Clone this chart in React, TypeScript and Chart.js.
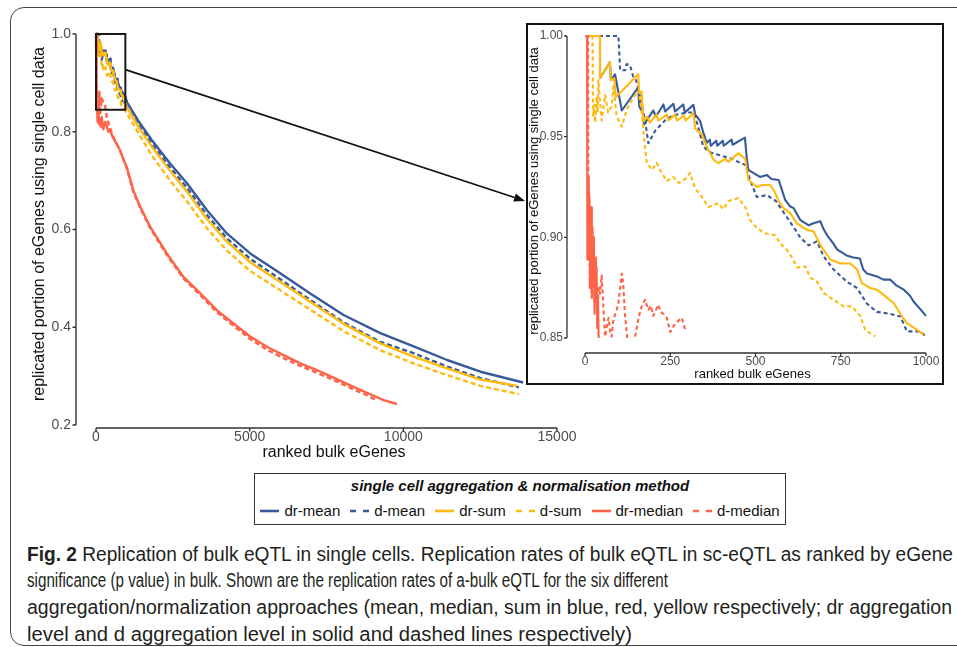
import React, { useEffect, useLayoutEffect, useRef } from "react";
import { Chart, registerables } from "chart.js";

Chart.register(...registerables);

type Pt = [number, number | null];

// ---------- series metadata ----------
const seriesLabels = ["dr-mean", "d-mean", "dr-sum", "d-sum", "dr-median", "d-median"];
const seriesColors = ["#375A9A", "#375A9A", "#FFB90F", "#FFB90F", "#FF6347", "#FF6347"];
const seriesDashed = [false, true, false, true, false, true];

// ---------- tick values ----------
const mainXTicks = [0, 5000, 10000, 15000];
const mainYTicks = [0.2, 0.4, 0.6, 0.8, 1.0];
const insetXTicks = [0, 250, 500, 750, 1000];
const insetYTicks = [0.85, 0.9, 0.95, 1.0];

// zoom window drawn on the main panel (rank range, rate range)
const zoomRankRange = [0, 955];
const zoomRateRange = [0.845, 1.0];

// ---------- inset data: first 1000 ranked bulk eGenes ----------
const drMeanZoom: Pt[] = [
  [0, 1], [44, 1], [44, 0.979], [73, 0.987], [76, 0.978], [88, 0.981], [98, 0.972], [108, 0.963],
  [156, 0.9745], [159, 0.965], [169, 0.962], [173, 0.956], [200, 0.963], [208, 0.96], [230, 0.966],
  [235, 0.9625], [259, 0.9663], [264, 0.9625], [288, 0.966], [293, 0.962], [318, 0.9658], [323, 0.961],
  [337, 0.958], [347, 0.952], [357, 0.947], [366, 0.9485], [369, 0.9455], [385, 0.948], [388, 0.9455],
  [404, 0.948], [407, 0.9455], [430, 0.9485], [433, 0.946], [469, 0.9495], [474, 0.94], [479, 0.9335],
  [503, 0.931], [513, 0.93], [533, 0.931], [547, 0.929], [568, 0.9285], [587, 0.9186], [602, 0.9153],
  [612, 0.9145], [631, 0.9087], [656, 0.906], [670, 0.907], [690, 0.908], [700, 0.904], [710, 0.901],
  [728, 0.897], [739, 0.894], [767, 0.891], [787, 0.89], [806, 0.8895], [816, 0.884], [827, 0.882],
  [856, 0.8806], [875, 0.879], [895, 0.879], [914, 0.876], [935, 0.874], [953, 0.871], [964, 0.868],
  [985, 0.864], [1000, 0.861],
];
const dMeanZoom: Pt[] = [
  [0, 1], [98, 1], [103, 0.983], [118, 0.983], [122, 0.986], [132, 0.9856], [141, 0.98], [150, 0.978],
  [166, 0.9666], [176, 0.958], [186, 0.9467], [206, 0.953], [240, 0.959], [270, 0.961], [300, 0.962],
  [318, 0.962], [330, 0.956], [347, 0.945], [370, 0.942], [391, 0.941], [430, 0.939], [455, 0.937],
  [470, 0.936], [484, 0.9285], [504, 0.92], [534, 0.921], [560, 0.918], [592, 0.91], [612, 0.905],
  [631, 0.9], [656, 0.896], [680, 0.898], [700, 0.8905], [729, 0.884], [768, 0.878], [798, 0.8748],
  [827, 0.867], [856, 0.863], [895, 0.862], [925, 0.8607], [944, 0.8533], [984, 0.8533], [998, 0.851],
];
const drSumZoom: Pt[] = [
  [0, 1], [44, 1], [44, 0.979], [73, 0.987], [76, 0.978], [86, 0.979], [90, 0.9696], [156, 0.981],
  [159, 0.9716], [166, 0.9725], [171, 0.9575], [183, 0.96], [190, 0.957], [210, 0.961], [215, 0.958],
  [240, 0.961], [245, 0.958], [264, 0.961], [270, 0.958], [290, 0.9605], [295, 0.958], [318, 0.9616],
  [323, 0.954], [343, 0.951], [357, 0.945], [377, 0.9385], [391, 0.9368], [411, 0.939], [420, 0.9375],
  [450, 0.9418], [470, 0.939], [479, 0.9285], [504, 0.925], [520, 0.926], [543, 0.926], [555, 0.923],
  [568, 0.918], [582, 0.9145], [602, 0.912], [621, 0.907], [651, 0.9037], [670, 0.903], [690, 0.8963],
  [719, 0.889], [749, 0.887], [778, 0.887], [798, 0.884], [812, 0.8773], [837, 0.8748], [856, 0.874],
  [881, 0.8707], [905, 0.8674], [930, 0.8607], [944, 0.8574], [974, 0.8541], [993, 0.8516],
];
const dSumZoom: Pt[] = [
  [0, 1], [22, 1], [24, 0.96], [28, 0.966], [30, 0.957], [34, 0.97], [37, 0.962], [39, 0.978],
  [49, 0.958], [59, 0.9707], [68, 0.962], [78, 0.965], [83, 0.975], [93, 0.96], [108, 0.955],
  [122, 0.9633], [137, 0.968], [157, 0.973], [166, 0.963], [176, 0.945], [181, 0.937], [196, 0.9335],
  [210, 0.937], [220, 0.9335], [240, 0.928], [259, 0.93], [275, 0.927], [294, 0.929], [308, 0.932],
  [323, 0.9244], [343, 0.92], [362, 0.915], [391, 0.917], [405, 0.914], [421, 0.918], [450, 0.9195],
  [470, 0.915], [484, 0.9087], [504, 0.9046], [528, 0.902], [558, 0.901], [572, 0.897], [592, 0.8938],
  [607, 0.89], [622, 0.885], [646, 0.8855], [661, 0.88], [680, 0.878], [700, 0.8723], [729, 0.869],
  [758, 0.8657], [783, 0.8657], [807, 0.861], [822, 0.854], [851, 0.8508],
];
const drMedianZoom: Pt[] = [
  [1, 1], [6, 1], [7, 0.889], [9, 0.93], [11, 0.889], [13, 0.92], [15, 0.875], [18, 0.915], [20, 0.87],
  [22, 0.905], [24, 0.88], [26, 0.9], [28, 0.862], [30, 0.89], [32, 0.87], [34, 0.885], [36, 0.855],
  [38, 0.87], [40, 0.85],
];
const dMedianZoom: Pt[] = [
  [3, 1], [9, 1], [10, 0.9], [12, 0.923], [14, 0.875], [17, 0.9], [20, 0.87], [24, 0.892], [28, 0.867],
  [32, 0.885], [36, 0.86], [40, 0.875], [44, 0.872], [49, 0.881], [54, 0.865], [59, 0.8507], [64, 0.856],
  [69, 0.86], [74, 0.853], [78, 0.8507], [83, 0.859], [93, 0.864], [98, 0.8674], [103, 0.875], [108, 0.882],
  [112, 0.877], [117, 0.862], [124, 0.85], [135, null], [147, 0.8507], [157, 0.86], [166, 0.8657],
  [176, 0.869], [186, 0.864], [193, 0.866], [200, 0.861], [208, 0.864], [215, 0.8665], [222, 0.863],
  [230, 0.862], [240, 0.86], [250, 0.853], [259, 0.8558], [270, 0.858], [284, 0.86], [294, 0.854],
];

// ---------- main data beyond the zoom window ----------
const drMeanRest: Pt[] = [
  [1400, 0.82], [1813, 0.783], [2410, 0.735], [2954, 0.695], [3605, 0.64], [4257, 0.592], [5016, 0.551],
  [5885, 0.515], [6970, 0.469], [8055, 0.425], [9250, 0.388], [10336, 0.361], [11423, 0.333],
  [12508, 0.309], [13900, 0.287],
];
const dMeanRest: Pt[] = [
  [1400, 0.812], [1813, 0.776], [2410, 0.727], [2954, 0.686], [3605, 0.63], [4257, 0.582], [5016, 0.54],
  [5885, 0.503], [6970, 0.456], [8055, 0.41], [9250, 0.37], [10336, 0.347], [11423, 0.3195],
  [12508, 0.296], [13760, 0.277],
];
const drSumRest: Pt[] = [
  [1400, 0.808], [1813, 0.77], [2410, 0.72], [2954, 0.678], [3605, 0.622], [4257, 0.575], [5016, 0.533],
  [5885, 0.497], [6970, 0.452], [8055, 0.407], [9250, 0.367], [10336, 0.34], [11423, 0.316],
  [12508, 0.293], [13700, 0.28],
];
const dSumRest: Pt[] = [
  [1000, 0.838], [1400, 0.795], [1813, 0.752], [2410, 0.7], [2954, 0.658], [3605, 0.603], [4257, 0.557],
  [5016, 0.515], [5885, 0.48], [6970, 0.436], [8055, 0.392], [9250, 0.353], [10336, 0.326],
  [11423, 0.302], [12508, 0.28], [13760, 0.263],
];
const drMedianMain: Pt[] = [
  [0, 1], [5, 1], [7, 0.889], [10, 0.9], [15, 0.875], [20, 0.93], [28, 0.862], [36, 0.855], [45, 0.835],
  [60, 0.82], [80, 0.84], [100, 0.815], [130, 0.825], [160, 0.81], [186, 0.83], [238, 0.805], [300, 0.82],
  [349, 0.812], [400, 0.8], [456, 0.805], [520, 0.792], [600, 0.783], [700, 0.772], [782, 0.762],
  [900, 0.742], [1000, 0.728], [1215, 0.68], [1433, 0.647], [1759, 0.606], [2303, 0.551], [2846, 0.503],
  [3388, 0.47], [3930, 0.435], [4473, 0.408], [5016, 0.381], [5559, 0.36], [6101, 0.343], [6644, 0.326],
  [7187, 0.3125], [7729, 0.297], [8272, 0.281], [8815, 0.266], [9358, 0.251], [9790, 0.243],
];
const dMedianMain: Pt[] = [
  [0, 1], [9, 1], [12, 0.923], [20, 0.87], [24, 0.892], [40, 0.875], [59, 0.85], [80, 0.84], [108, 0.882],
  [124, 0.85], [135, 0.835], [176, 0.869], [230, 0.862], [294, 0.854], [350, 0.83], [420, 0.815],
  [500, 0.8], [600, 0.785], [782, 0.762], [1000, 0.725], [1215, 0.677], [1433, 0.645], [1759, 0.603],
  [2303, 0.548], [2846, 0.5], [3388, 0.466], [3930, 0.431], [4473, 0.403], [5016, 0.376], [5559, 0.354],
  [6101, 0.337], [6644, 0.321], [7187, 0.307], [7729, 0.292], [8272, 0.276], [8815, 0.261], [9140, 0.25],
];

const mainSeries: Pt[][] = [
  [...drMeanZoom, ...drMeanRest],
  [...dMeanZoom, ...dMeanRest],
  [...drSumZoom, ...drSumRest],
  [...dSumZoom, ...dSumRest],
  drMedianMain,
  dMedianMain,
];
const insetSeries: Pt[][] = [drMeanZoom, dMeanZoom, drSumZoom, dSumZoom, drMedianZoom, dMedianZoom];

// ---------- text ----------
const yTitle = "replicated portion of eGenes using single cell data";
const xTitle = "ranked bulk eGenes";
const legendTitle = "single cell aggregation & normalisation method";
const captionLines = [
  " Replication of bulk eQTL in single cells. Replication rates of bulk eQTL in sc-eQTL as ranked by eGene",
  "significance (p value) in bulk. Shown are the replication rates of a-bulk eQTL for the six different",
  "aggregation/normalization approaches (mean, median, sum in blue, red, yellow respectively; dr aggregation",
  "level and d aggregation level in solid and dashed lines respectively)",
];
// rendered width of each caption line in the reference figure
const captionWidths = [926, 641, 925, 605];

const FONT = '"Liberation Sans", Arial, Helvetica, sans-serif';
const INSET = { left: 526, top: 23, width: 418, height: 362, border: 2 };
const ARROW_TIP = { x: INSET.left - 1, y: 201 };

function makeDatasets(series: Pt[][], width: number, dash: number[]) {
  return series.map((pts, i) => ({
    label: seriesLabels[i],
    data: pts.map(([x, y]) => ({ x, y })),
    borderColor: seriesColors[i],
    backgroundColor: seriesColors[i],
    borderWidth: width,
    borderDash: seriesDashed[i] ? dash : [],
    borderJoinStyle: "round" as const,
    pointRadius: 0,
    pointHoverRadius: 0,
    tension: 0,
    fill: false,
    spanGaps: false,
    order: series.length - 1 - i,
  }));
}

function cappedAxesPlugin(xTicks: number[], yTicks: number[], tickLen: number, lw: number) {
  return {
    id: "cappedAxes",
    afterDatasetsDraw(chart: any) {
      const { ctx, chartArea } = chart;
      const xs = chart.scales.x;
      const ys = chart.scales.y;
      const left = chartArea.left;
      const bottom = chartArea.bottom;
      ctx.save();
      ctx.strokeStyle = "#333333";
      ctx.lineWidth = lw;
      ctx.setLineDash([]);
      ctx.beginPath();
      ctx.moveTo(left, ys.getPixelForValue(yTicks[yTicks.length - 1]));
      ctx.lineTo(left, ys.getPixelForValue(yTicks[0]));
      ctx.moveTo(xs.getPixelForValue(xTicks[0]), bottom);
      ctx.lineTo(xs.getPixelForValue(xTicks[xTicks.length - 1]), bottom);
      yTicks.forEach((v) => {
        const py = ys.getPixelForValue(v);
        ctx.moveTo(left - tickLen, py);
        ctx.lineTo(left, py);
      });
      xTicks.forEach((v) => {
        const px = xs.getPixelForValue(v);
        ctx.moveTo(px, bottom);
        ctx.lineTo(px, bottom + tickLen);
      });
      ctx.stroke();
      ctx.restore();
    },
  };
}

const zoomArrowPlugin = {
  id: "zoomArrow",
  afterDatasetsDraw(chart: any) {
    const { ctx } = chart;
    const xs = chart.scales.x;
    const ys = chart.scales.y;
    const x0 = xs.getPixelForValue(zoomRankRange[0]);
    const x1 = xs.getPixelForValue(zoomRankRange[1]);
    const y0 = ys.getPixelForValue(zoomRateRange[1]);
    const y1 = ys.getPixelForValue(zoomRateRange[0]);
    ctx.save();
    ctx.setLineDash([]);
    ctx.strokeStyle = "#1a1a1a";
    ctx.lineWidth = 2;
    ctx.strokeRect(x0, y0, x1 - x0, y1 - y0);
    const sx = x1;
    const sy = y0 + 0.47 * (y1 - y0);
    const tx = ARROW_TIP.x;
    const ty = ARROW_TIP.y;
    const ang = Math.atan2(ty - sy, tx - sx);
    const headLen = 11;
    const headW = 4.2;
    const bx = tx - headLen * Math.cos(ang);
    const by = ty - headLen * Math.sin(ang);
    ctx.lineWidth = 1.7;
    ctx.strokeStyle = "#111";
    ctx.beginPath();
    ctx.moveTo(sx, sy);
    ctx.lineTo(bx, by);
    ctx.stroke();
    ctx.fillStyle = "#111";
    ctx.beginPath();
    ctx.moveTo(tx, ty);
    ctx.lineTo(bx + headW * Math.sin(ang), by - headW * Math.cos(ang));
    ctx.lineTo(bx - headW * Math.sin(ang), by + headW * Math.cos(ang));
    ctx.closePath();
    ctx.fill();
    ctx.restore();
  },
};

interface AxisCfg {
  xMin: number; xMax: number; yMin: number; yMax: number;
  xTicks: number[]; yTicks: number[];
  xFmt: (v: number) => string; yFmt: (v: number) => string;
  tickFont: number; titleFont: number;
  yWidth: number; xHeight: number;
  yTitlePad: number; yLabelPad: number; xLabelPad: number;
  padding: { left: number; right: number; top: number; bottom: number };
}

function buildOptions(c: AxisCfg) {
  return {
    responsive: false,
    maintainAspectRatio: false,
    animation: false as const,
    events: [] as any[],
    layout: { padding: c.padding },
    plugins: { legend: { display: false }, tooltip: { enabled: false }, title: { display: false } },
    scales: {
      x: {
        type: "linear" as const,
        min: c.xMin,
        max: c.xMax,
        grid: { display: false, drawTicks: false },
        border: { display: false },
        afterBuildTicks: (s: any) => { s.ticks = c.xTicks.map((v) => ({ value: v })); },
        afterFit: (s: any) => {
          s.height = c.xHeight;
          s.paddingLeft = 0;
          s.paddingRight = 0;
        },
        ticks: {
          color: "#4D4D4D",
          font: { family: FONT, size: c.tickFont },
          padding: c.xLabelPad,
          maxRotation: 0,
          autoSkip: false,
          callback: (v: any) => c.xFmt(Number(v)),
        },
        title: {
          display: true,
          text: xTitle,
          color: "#111",
          font: { family: FONT, size: c.titleFont, lineHeight: 1 },
          padding: { top: 0, bottom: 0 },
        },
      },
      y: {
        type: "linear" as const,
        min: c.yMin,
        max: c.yMax,
        grid: { display: false, drawTicks: false },
        border: { display: false },
        afterBuildTicks: (s: any) => { s.ticks = c.yTicks.map((v) => ({ value: v })); },
        afterFit: (s: any) => {
          s.width = c.yWidth;
          s.paddingTop = 0;
          s.paddingBottom = 0;
        },
        ticks: {
          color: "#4D4D4D",
          font: { family: FONT, size: c.tickFont },
          padding: c.yLabelPad,
          autoSkip: false,
          callback: (v: any) => c.yFmt(Number(v)),
        },
        title: {
          display: true,
          text: yTitle,
          color: "#111",
          font: { family: FONT, size: c.titleFont, lineHeight: 1 },
          padding: { top: c.yTitlePad, bottom: 0 },
        },
      },
    },
  };
}

function LegendKey({ color, dashed }: { color: string; dashed: boolean }) {
  return (
    <svg width={19} height={8} style={{ display: "block", marginRight: 5 }}>
      <line
        x1={0}
        y1={4}
        x2={19}
        y2={4}
        stroke={color}
        strokeWidth={2.6}
        strokeDasharray={dashed ? "6 7" : undefined}
      />
    </svg>
  );
}

export default function App() {
  const mainRef = useRef<HTMLCanvasElement | null>(null);
  const insetRef = useRef<HTMLCanvasElement | null>(null);
  const capRefs = useRef<(HTMLDivElement | null)[]>([]);

  useEffect(() => {
    if (!mainRef.current || !insetRef.current) return;
    const main = new Chart(mainRef.current, {
      type: "line",
      data: { datasets: makeDatasets(mainSeries, 2.4, [5, 3]) as any },
      options: buildOptions({
        xMin: -651, xMax: 16139, yMin: 0.19386, yMax: 1.02865,
        xTicks: mainXTicks, yTicks: mainYTicks,
        xFmt: (v) => String(v), yFmt: (v) => v.toFixed(1),
        tickFont: 14, titleFont: 16,
        yWidth: 76, xHeight: 33, yTitlePad: 32, yLabelPad: 5, xLabelPad: 1,
        padding: { left: 0, right: 365, top: 20, bottom: 9 },
      }) as any,
      plugins: [cappedAxesPlugin(mainXTicks, mainYTicks, 3.5, 1.4), zoomArrowPlugin],
    });
    const inset = new Chart(insetRef.current, {
      type: "line",
      data: { datasets: makeDatasets(insetSeries, 2.1, [4, 3]) as any },
      options: buildOptions({
        xMin: -52.8, xMax: 1035.2, yMin: 0.84256, yMax: 1.00347,
        xTicks: insetXTicks, yTicks: insetYTicks,
        xFmt: (v) => String(v), yFmt: (v) => v.toFixed(2),
        tickFont: 12, titleFont: 13,
        yWidth: 39, xHeight: 28, yTitlePad: 0, yLabelPad: 4, xLabelPad: 1,
        padding: { left: 0, right: 4, top: 4, bottom: 2 },
      }) as any,
      plugins: [cappedAxesPlugin(insetXTicks, insetYTicks, 3, 1.3)],
    });
    return () => {
      main.destroy();
      inset.destroy();
    };
  }, []);

  useLayoutEffect(() => {
    capRefs.current.forEach((el, i) => {
      if (!el) return;
      el.style.transform = "none";
      const w = el.getBoundingClientRect().width;
      if (w > 0) el.style.transform = `scaleX(${captionWidths[i] / w})`;
    });
  }, []);

  const innerW = INSET.width - 2 * INSET.border;
  const innerH = INSET.height - 2 * INSET.border;

  return (
    <div
      style={{
        position: "absolute",
        left: 0,
        top: 0,
        width: 957,
        height: 647,
        overflow: "hidden",
        background: "#ffffff",
        fontFamily: FONT,
      }}
    >
      <div
        style={{
          position: "absolute",
          left: 10,
          top: 7,
          width: 1000,
          height: 639,
          border: "1.5px solid #444",
          borderRadius: 14,
          boxSizing: "border-box",
        }}
      />
      <canvas ref={mainRef} width={957} height={470} style={{ position: "absolute", left: 0, top: 0 }} />
      <div
        style={{
          position: "absolute",
          left: INSET.left,
          top: INSET.top,
          width: INSET.width,
          height: INSET.height,
          border: `${INSET.border}px solid #111`,
          boxSizing: "border-box",
          background: "#fff",
        }}
      >
        <canvas
          ref={insetRef}
          width={innerW}
          height={innerH}
          style={{ position: "absolute", left: 0, top: 0 }}
        />
      </div>

      <div
        style={{
          position: "absolute",
          left: 254,
          top: 473,
          width: 532,
          height: 52,
          border: "1.5px solid #333",
          boxSizing: "border-box",
          color: "#111",
          fontSize: 15,
        }}
      >
        <div
          style={{
            position: "absolute",
            left: 0,
            right: 0,
            top: 3,
            height: 18,
            lineHeight: "18px",
            textAlign: "center",
            fontWeight: "bold",
            fontStyle: "italic",
          }}
        >
          {legendTitle}
        </div>
        <div
          style={{
            position: "absolute",
            left: 0,
            right: 0,
            top: 28,
            height: 18,
            display: "flex",
            justifyContent: "center",
            alignItems: "center",
            gap: 10,
            lineHeight: "18px",
          }}
        >
          {seriesLabels.map((lab, i) => (
            <div key={lab} style={{ display: "flex", alignItems: "center" }}>
              <LegendKey color={seriesColors[i]} dashed={seriesDashed[i]} />
              <span>{lab}</span>
            </div>
          ))}
        </div>
      </div>

      {captionLines.map((line, i) => (
        <div
          key={i}
          ref={(el) => { capRefs.current[i] = el; }}
          style={{
            position: "absolute",
            left: 27,
            top: 540.6 + i * 26.7,
            whiteSpace: "nowrap",
            fontSize: 19.5,
            lineHeight: "26.7px",
            color: "#231F20",
            transformOrigin: "0 0",
          }}
        >
          {i === 0 ? <b>Fig. 2</b> : null}
          {line}
        </div>
      ))}
    </div>
  );
}
